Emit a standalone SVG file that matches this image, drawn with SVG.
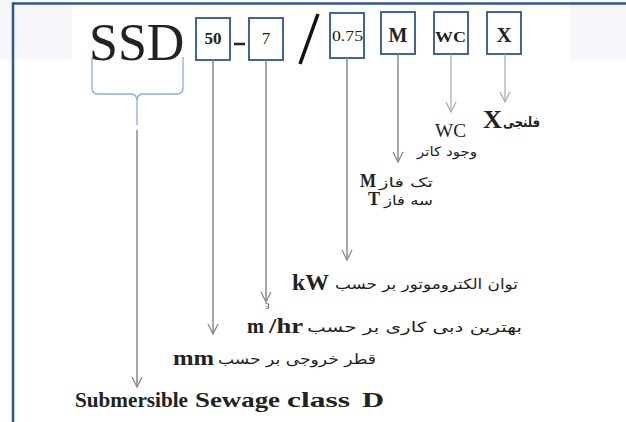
<svg xmlns="http://www.w3.org/2000/svg" width="626" height="422" viewBox="0 0 626 422">
<style>
.box{fill:#fff;stroke:#41679A;stroke-width:2}
.lat{font-family:"Liberation Serif","Times New Roman",serif;fill:#222}
.b{font-weight:bold}
.ar{font-family:"DejaVu Sans",sans-serif;fill:#1e1e1e}
.con{stroke:#8a8a8a;stroke-width:1.5;fill:none}
.con2{stroke:#a8a8a8;stroke-width:1.2;fill:none}
.mid{text-anchor:middle}
</style>
<defs>
<marker id="ah" viewBox="0 0 10 10" refX="10" refY="5" markerWidth="10" markerHeight="10" markerUnits="userSpaceOnUse" orient="auto" overflow="visible">
<path d="M0,0 L10,5 L0,10" fill="none" stroke="#8a8a8a" stroke-width="1.3"/>
</marker>
<marker id="ah2" viewBox="0 0 10 10" refX="10" refY="5" markerWidth="10" markerHeight="10" markerUnits="userSpaceOnUse" orient="auto" overflow="visible">
<path d="M0,0 L10,5 L0,10" fill="none" stroke="#a8a8a8" stroke-width="1.2"/>
</marker>
</defs>
<rect width="626" height="422" fill="#fff"/>
<rect x="0" y="0" width="72" height="60" fill="#f6f8fb"/>
<rect x="570" y="0" width="56" height="60" fill="#f6f8fb"/>
<path d="M13,423 V3.5 H627" fill="none" stroke="#2E54A0" stroke-width="2.5"/>

<g id="ssd">
<text class="lat" x="89" y="60" font-size="52">SSD</text>
<path d="M92,57 V88 Q92,94 98,94 H131 Q137,94 137,101 V125 M183,57 V88 Q183,94 177,94 H143 Q137,94 137,101" fill="none" stroke="#8FAADC" stroke-width="1.3"/>
</g>

<g id="box50">
<rect class="box" x="196" y="18" width="34" height="42"/>
<text class="lat b mid" x="213" y="44" font-size="17" fill="#333">50</text>
</g>
<g id="dash"><line x1="234" y1="44" x2="245" y2="44" stroke="#222" stroke-width="2.5"/></g>
<g id="box7">
<rect class="box" x="249" y="18" width="34" height="42"/>
<text class="lat mid" x="266" y="44" font-size="17">7</text>
</g>
<g id="slash"><line x1="318" y1="14" x2="300" y2="64" stroke="#111" stroke-width="3.5"/></g>
<g id="box075">
<rect class="box" x="330" y="13" width="34" height="45"/>
<text class="lat" x="332" y="41" font-size="14" textLength="31" lengthAdjust="spacingAndGlyphs">0.75</text>
</g>
<g id="boxM">
<rect class="box" x="381" y="12" width="34" height="42"/>
<text class="lat b mid" x="398" y="42" font-size="20" fill="#333">M</text>
</g>
<g id="boxWC">
<rect class="box" x="434" y="12" width="34" height="42"/>
<text class="lat b" x="435" y="42" font-size="15" textLength="31" lengthAdjust="spacingAndGlyphs" fill="#333">WC</text>
</g>
<g id="boxX">
<rect class="box" x="487" y="12" width="34" height="42"/>
<text class="lat b mid" x="504" y="42" font-size="21">X</text>
</g>

<g id="connectors">
<line class="con" x1="137" y1="130" x2="137" y2="387" marker-end="url(#ah)"/>
<line class="con" x1="213" y1="60" x2="213" y2="334" marker-end="url(#ah)"/>
<line class="con" x1="266" y1="60" x2="266" y2="302" marker-end="url(#ah)"/>
<line class="con" x1="347" y1="58" x2="347" y2="260" marker-end="url(#ah)"/>
<line class="con" x1="398" y1="54" x2="398" y2="162" marker-end="url(#ah)"/>
<line class="con2" x1="451" y1="54" x2="451" y2="112" marker-end="url(#ah2)"/>
<line class="con2" x1="505" y1="54" x2="505" y2="102" marker-end="url(#ah2)"/>
</g>

<g id="lblX">
<text class="lat b" x="483" y="128" font-size="26" textLength="19" lengthAdjust="spacingAndGlyphs">X</text>
<text class="ar b" x="503" y="127" font-size="14" textLength="37" lengthAdjust="spacingAndGlyphs">فلنجی</text>
</g>
<g id="lblWC">
<text class="lat" x="435" y="137" font-size="18" textLength="31" lengthAdjust="spacingAndGlyphs" fill="#444">WC</text>
<text class="ar" x="417" y="156" font-size="13" textLength="60" lengthAdjust="spacingAndGlyphs">وجود کاتر</text>
</g>
<g id="lblM">
<text class="lat b" x="360" y="187" font-size="18" textLength="16" lengthAdjust="spacingAndGlyphs" fill="#333">M</text>
<text class="ar" x="379" y="187" font-size="13" textLength="54" lengthAdjust="spacingAndGlyphs">تک فاز</text>
<text class="lat b" x="368" y="205" font-size="18" textLength="12" lengthAdjust="spacingAndGlyphs" fill="#333">T</text>
<text class="ar" x="384" y="205" font-size="13" textLength="49" lengthAdjust="spacingAndGlyphs">سه فاز</text>
</g>
<g id="lblKW">
<text class="lat b" x="292" y="290" font-size="24" textLength="37" lengthAdjust="spacingAndGlyphs">kW</text>
<text class="ar" x="335" y="289" font-size="14" textLength="183" lengthAdjust="spacingAndGlyphs">توان الکتروموتور بر حسب</text>
</g>
<g id="lblFlow">
<text class="lat b" x="247" y="333" font-size="22" textLength="17" lengthAdjust="spacingAndGlyphs">m</text>
<text class="lat" x="265" y="309" font-size="9">3</text>
<text class="lat b" x="269" y="333" font-size="22" textLength="34" lengthAdjust="spacingAndGlyphs">/hr</text>
<text class="ar" x="307" y="332" font-size="14" textLength="215" lengthAdjust="spacingAndGlyphs">بهترین دبی کاری بر حسب</text>
</g>
<g id="lblMM">
<text class="lat b" x="173" y="365" font-size="22" textLength="41" lengthAdjust="spacingAndGlyphs">mm</text>
<text class="ar" x="218" y="364" font-size="14" textLength="158" lengthAdjust="spacingAndGlyphs">قطر خروجی بر حسب</text>
</g>
<g id="lblSSD">
<text class="lat b" x="75" y="407" font-size="22" textLength="113" lengthAdjust="spacingAndGlyphs">Submersible</text>
<text class="lat b" x="195" y="407" font-size="22" textLength="85" lengthAdjust="spacingAndGlyphs">Sewage</text>
<text class="lat b" x="287" y="407" font-size="22" textLength="63" lengthAdjust="spacingAndGlyphs">class</text>
<text class="lat b" x="362" y="407" font-size="22" textLength="22" lengthAdjust="spacingAndGlyphs">D</text>
</g>
</svg>
